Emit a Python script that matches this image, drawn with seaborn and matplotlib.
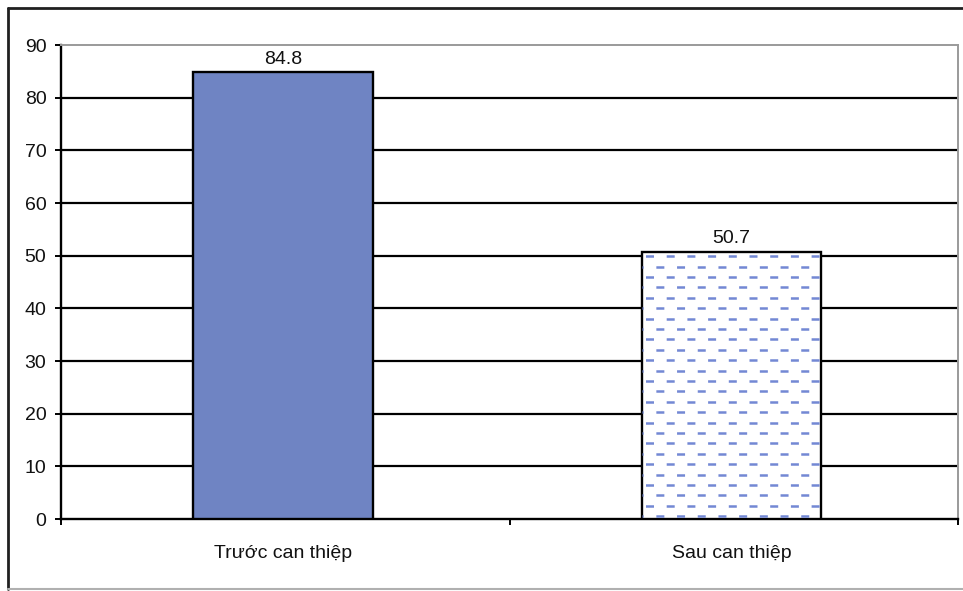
import numpy as np
import pandas as pd
import matplotlib
matplotlib.use("Agg")
import matplotlib.pyplot as plt
from matplotlib.lines import Line2D
import seaborn as sns

# Data
categories = ["Trước can thiệp", "Sau can thiệp"]
values = [84.8, 50.7]
value_labels = ["84.8", "50.7"]
y_ticks = [0, 10, 20, 30, 40, 50, 60, 70, 80, 90]

sns.set_theme(style="white")
plt.rcParams["font.family"] = ["Liberation Sans", "DejaVu Sans"]
plt.rcParams["lines.scale_dashes"] = False

W, H, DPI = 963, 591, 100
fig = plt.figure(figsize=(W / DPI, H / DPI), dpi=DPI)
ax = fig.add_axes([61 / W, 1 - 519 / H, (958 - 61) / W, (519 - 45) / H])

df = pd.DataFrame({"group": categories, "pct": values})
sns.barplot(data=df, x="group", y="pct", hue="group", palette=["#6f84c3", "#ffffff"],
            width=0.4, legend=False, ax=ax, edgecolor="black", linewidth=1.7,
            saturation=1, zorder=3)

ax.set_ylim(0, 90)
ax.set_xlim(-0.495, 1.505)
ax.set_yticks(y_ticks)
ax.set_xlabel("")
ax.set_ylabel("")

# Horizontal grid lines
for t in y_ticks[1:-1]:
    ax.axhline(t, color="black", lw=1.6, zorder=1)

# Spines: black axes, grey plot-area border
ax.spines["left"].set_color("black")
ax.spines["left"].set_linewidth(1.7)
ax.spines["bottom"].set_color("black")
ax.spines["bottom"].set_linewidth(1.7)
for s in ("top", "right"):
    ax.spines[s].set_color("#9a9a9a")
    ax.spines[s].set_linewidth(1.4)

ax.tick_params(axis="y", which="major", direction="out", length=4.5, width=1.4,
               color="black", labelsize=14, labelcolor="#111111", pad=6, left=True)
ax.tick_params(axis="x", which="major", length=0, labelsize=14, labelcolor="#111111", pad=19)
ax.set_xticks([-0.495, 0.505, 1.505], minor=True)
ax.tick_params(axis="x", which="minor", direction="out", length=4.5, width=1.4,
               color="black", bottom=True)

# Dashed-fill pattern for the second bar
patch = ax.patches[1]
x0 = patch.get_x()
x1 = x0 + patch.get_width()
top = patch.get_height()
px_per_unit = (519 - 45) / 90.0
row_step = 10.4 / px_per_unit
pt = 0.72  # points per pixel at 100 dpi
period = 20.7 * pt
dash = 8.0 * pt
rows = np.arange(top - 4.2 / px_per_unit, 0, -row_step)
for i, yy in enumerate(rows):
    off = 0 if i % 2 == 0 else period / 2
    ln, = ax.plot([x0, x1], [yy, yy], color="#7388d4", lw=1.8,
                  linestyle=(off - 3.5 * pt, (dash, period - dash)),
                  solid_capstyle="butt", dash_capstyle="butt", zorder=4)
    ln.set_clip_path(patch)

# Value labels above bars
for i, (v, lab) in enumerate(zip(values, value_labels)):
    ax.annotate(lab, (i, v), xytext=(0, 3.5), textcoords="offset points",
                ha="center", va="bottom", fontsize=14, color="#111111")

# Outer chart frame
fig.add_artist(Line2D([8 / W, 8 / W], [1 - 8 / H, 1 - 589 / H], color="#202020", lw=2.0))
fig.add_artist(Line2D([8 / W, 1.0], [1 - 8 / H, 1 - 8 / H], color="#202020", lw=2.0))
fig.add_artist(Line2D([8 / W, 1.0], [1 - 589 / H, 1 - 589 / H], color="#b0b0b0", lw=1.5))

fig.savefig("out.png", dpi=DPI, facecolor="white")
